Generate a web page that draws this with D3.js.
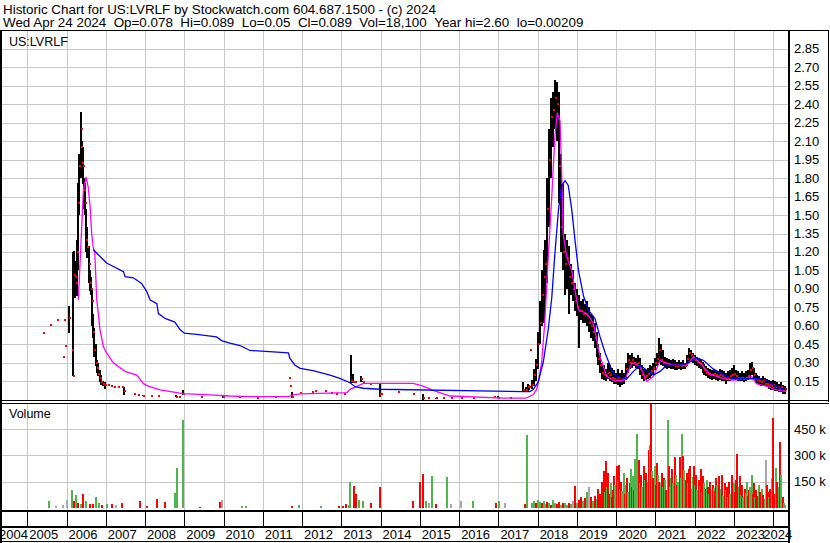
<!DOCTYPE html>
<html><head><meta charset="utf-8">
<script src="https://cdn.jsdelivr.net/npm/d3@7"></script>
<style>
body{margin:0;background:#fff}
svg{display:block}
text{font-family:"Liberation Sans",Arial,sans-serif;fill:#000}
</style>
</head><body>
<svg id="chart" width="830" height="543"></svg>
<script>
// ---------------- DATA ----------------
const titleLine1 = "Historic Chart for US:LVRLF by Stockwatch.com 604.687.1500 - (c) 2024";
const titleLine2 = "Wed Apr 24 2024  Op=0.078  Hi=0.089  Lo=0.05  Cl=0.089  Vol=18,100  Year hi=2.60  lo=0.00209";
const symbolLabel = "US:LVRLF";
const volumeLabel = "Volume";
const priceTicks = [0.15,0.30,0.45,0.60,0.75,0.90,1.05,1.20,1.35,1.50,1.65,1.80,1.95,2.10,2.25,2.40,2.55,2.70,2.85];
const volumeTicks = [150,300,450]; // thousands
const yearTicks = [2005,2006,2007,2008,2009,2010,2011,2012,2013,2014,2015,2016,2017,2018,2019,2020,2021,2022,2023,2024];
const yearLabels = [2004,2005,2006,2007,2008,2009,2010,2011,2012,2013,2014,2015,2016,2017,2018,2019,2020,2021,2022,2023,2024];

// [decimal year, high, low, close]
const priceBars = [
[2005.41,.54,.54,.54],[2005.58,.61,.61,.61],[2005.75,.65,.65,.65],[2005.92,.35,.35,.35],[2005.94,.65,.65,.65],
[2005.97,.44,.44,.44],[2006.05,.76,.54,.66],[2006.15,.40,.40,.40],[2006.17,1.20,.19,.19],[2006.19,1.21,1.00,1.01],
[2006.21,1.13,.83,1.00],[2006.24,1.10,.85,.95],[2006.27,1.30,.84,1.20],[2006.30,1.76,1.05,1.60],[2006.33,2.00,1.50,1.90],
[2006.36,2.34,1.80,2.20],[2006.38,2.25,1.85,2.05],[2006.40,2.10,1.80,1.92],[2006.42,2.05,1.75,1.90],[2006.44,1.80,1.55,1.70],
[2006.47,1.76,1.50,1.60],[2006.50,1.55,1.20,1.30],[2006.53,1.40,1.15,1.24],[2006.56,1.25,.95,1.10],[2006.59,1.05,.88,.95],
[2006.62,1.00,.85,.90],[2006.65,.90,.60,.80],[2006.68,.70,.50,.55],[2006.71,.58,.35,.40],[2006.74,.45,.27,.30],
[2006.77,.32,.22,.26],[2006.80,.30,.19,.21],[2006.84,.24,.14,.18],[2006.88,.20,.12,.14],[2006.93,.15,.11,.13],
[2006.98,.14,.09,.12],[2007.05,.12,.12,.12],[2007.12,.11,.11,.11],[2007.22,.10,.10,.10],[2007.32,.10,.10,.10],
[2007.40,.10,.10,.10],[2007.47,.10,.04,.07],[2007.72,.05,.05,.05],[2007.82,.04,.04,.04],[2007.96,.04,.03,.03],
[2008.15,.03,.03,.03],[2008.32,.03,.03,.03],[2008.80,.04,.02,.02],[2008.86,.02,.02,.02],[2008.96,.08,.035,.05],
[2009.42,.02,.02,.02],[2009.99,.03,.015,.02],[2010.40,.02,.02,.02],[2010.85,.015,.015,.015],[2011.30,.02,.02,.02],
[2011.66,.18,.18,.18],[2011.68,.11,.11,.11],[2011.74,.066,.012,.02],[2011.95,.057,.057,.057],[2012.24,.06,.06,.06],
[2012.32,.07,.07,.07],[2012.59,.07,.07,.07],[2012.73,.057,.057,.057],[2012.86,.05,.05,.05],[2013.08,.05,.05,.05],
[2013.24,.363,.133,.15],[2013.30,.21,.133,.14],[2013.36,.15,.14,.14],[2013.49,.19,.14,.17],[2013.55,.15,.14,.14],
[2013.72,.13,.13,.13],[2013.98,.13,.02,.05],[2014.02,.05,.05,.05],[2014.45,.065,.065,.065],[2014.83,.05,.05,.05],
[2015.08,.05,.0,.01],[2015.20,.01,.01,.01],[2015.40,.01,.005,.01],[2015.60,.01,.01,.01],[2015.80,.01,.01,.01],
[2016.05,.012,.012,.012],[2016.35,.012,.012,.012],[2016.90,.025,.025,.025],[2017.00,.03,.01,.012],[2017.30,.012,.012,.012],
[2017.62,.14,.07,.08],[2017.70,.10,.06,.08],[2017.75,.13,.07,.10],[2017.79,.12,.08,.10],[2017.81,.40,.40,.40],
[2017.85,.16,.09,.12],[2017.90,.25,.11,.20],[2017.95,.33,.15,.28],[2018.00,.55,.25,.45],[2018.05,.80,.45,.62],
[2018.10,1.05,.60,.85],[2018.15,1.22,.62,1.00],[2018.20,1.30,.75,1.10],[2018.25,1.80,.95,1.55],[2018.30,2.20,1.40,1.95],
[2018.35,2.45,1.80,2.30],[2018.40,2.50,2.05,2.35],[2018.45,2.60,2.20,2.45],[2018.50,2.58,2.10,2.40],[2018.55,2.50,1.60,1.90],
[2018.60,2.00,1.20,1.40],[2018.65,1.75,1.05,1.20],[2018.70,1.35,.85,1.10],[2018.75,1.30,.90,1.15],[2018.80,1.25,.70,1.00],
[2018.85,1.10,.85,.95],[2018.90,1.05,.80,.90],[2018.95,.95,.72,.80],[2019.00,.90,.68,.75],[2019.05,.85,.42,.72],
[2019.10,.80,.65,.72],[2019.15,.82,.62,.70],[2019.20,.78,.62,.70],[2019.25,.80,.60,.68],[2019.30,.75,.55,.62],
[2019.35,.70,.50,.60],[2019.40,.68,.48,.55],[2019.45,.62,.42,.50],[2019.50,.55,.35,.42],[2019.55,.45,.28,.33],
[2019.60,.38,.22,.28],[2019.65,.30,.17,.22],[2019.70,.28,.16,.20],[2019.75,.25,.15,.19],[2019.80,.30,.17,.22],
[2019.85,.28,.15,.20],[2019.90,.26,.14,.18],[2019.95,.24,.13,.17],[2020.00,.22,.13,.16],[2020.05,.25,.12,.18],
[2020.10,.22,.10,.15],[2020.15,.24,.12,.17],[2020.20,.22,.13,.17],[2020.25,.30,.16,.25],[2020.30,.38,.22,.32],
[2020.35,.36,.25,.30],[2020.40,.38,.26,.32],[2020.45,.35,.27,.30],[2020.50,.34,.26,.29],[2020.55,.36,.25,.30],
[2020.60,.34,.20,.25],[2020.65,.28,.17,.20],[2020.70,.25,.15,.18],[2020.75,.24,.16,.19],[2020.80,.26,.17,.21],
[2020.85,.28,.18,.22],[2020.90,.27,.19,.23],[2020.95,.30,.20,.26],[2021.00,.34,.24,.30],[2021.05,.38,.27,.33],
[2021.10,.50,.30,.40],[2021.15,.45,.28,.32],[2021.20,.40,.27,.30],[2021.25,.35,.26,.30],[2021.30,.34,.25,.29],
[2021.35,.33,.26,.29],[2021.40,.32,.25,.28],[2021.45,.33,.25,.28],[2021.50,.32,.24,.27],[2021.55,.31,.24,.27],
[2021.60,.32,.25,.28],[2021.65,.31,.24,.27],[2021.70,.32,.25,.28],[2021.75,.30,.25,.27],[2021.80,.36,.27,.33],
[2021.85,.42,.30,.38],[2021.90,.40,.31,.36],[2021.95,.38,.30,.34],[2022.00,.36,.28,.32],[2022.05,.35,.27,.31],
[2022.10,.34,.26,.30],[2022.15,.33,.25,.29],[2022.20,.31,.22,.26],[2022.25,.29,.20,.24],[2022.30,.27,.19,.22],
[2022.35,.26,.18,.21],[2022.40,.25,.17,.20],[2022.45,.24,.16,.20],[2022.50,.25,.17,.21],[2022.55,.24,.16,.20],
[2022.60,.23,.15,.19],[2022.65,.25,.16,.20],[2022.70,.24,.15,.19],[2022.75,.23,.15,.18],[2022.80,.22,.13,.17],
[2022.85,.23,.15,.18],[2022.90,.24,.15,.19],[2022.95,.26,.16,.20],[2023.00,.28,.17,.21],[2023.05,.24,.16,.19],
[2023.10,.23,.15,.18],[2023.15,.22,.15,.18],[2023.20,.23,.15,.18],[2023.25,.22,.14,.17],[2023.30,.23,.15,.18],
[2023.35,.24,.16,.19],[2023.40,.30,.18,.24],[2023.45,.31,.20,.26],[2023.50,.26,.17,.20],[2023.55,.22,.14,.17],
[2023.60,.20,.13,.16],[2023.65,.19,.12,.15],[2023.70,.18,.11,.14],[2023.75,.19,.12,.15],[2023.80,.18,.11,.13],
[2023.85,.17,.10,.13],[2023.90,.16,.09,.12],[2023.95,.15,.08,.11],[2024.00,.16,.08,.12],[2024.05,.15,.07,.10],
[2024.10,.14,.07,.10],[2024.15,.13,.06,.09],[2024.20,.14,.06,.10],[2024.25,.12,.05,.08],[2024.30,.11,.05,.089]
];

// short moving average (magenta) [decimal year, value]
const shortMA = [
[2006.30,.81],[2006.34,1.08],[2006.43,1.70],[2006.50,1.81],[2006.55,1.73],[2006.60,1.57],[2006.64,1.35],[2006.68,1.24],
[2006.72,1.19],[2006.77,.81],[2006.81,.70],[2006.85,.57],[2006.94,.43],[2007.02,.38],[2007.19,.30],[2007.49,.23],
[2007.79,.20],[2007.96,.13],[2008.08,.11],[2008.38,.08],[2008.97,.05],[2009.65,.04],[2010.16,.03],[2010.67,.025],
[2011.65,.025],[2011.78,.039],[2011.95,.047],[2013.14,.057],[2013.22,.084],[2013.56,.133],[2013.90,.133],[2014.83,.133],
[2015.09,.11],[2015.30,.08],[2015.77,.03],[2017.12,.012],[2017.70,.012],[2017.88,.04],[2017.97,.08],[2018.03,.16],
[2018.10,.30],[2018.18,.62],[2018.27,1.16],[2018.36,1.65],[2018.44,2.14],[2018.50,2.33],[2018.57,2.27],[2018.61,1.87],
[2018.65,1.35],[2018.74,1.16],[2018.87,1.05],[2018.95,.89],[2019.04,.73],[2019.25,.70],[2019.42,.62],[2019.59,.35],
[2019.76,.19],[2019.97,.15],[2020.22,.16],[2020.40,.30],[2020.61,.27],[2020.78,.15],[2020.95,.19],[2021.12,.32],
[2021.24,.30],[2021.45,.28],[2021.80,.28],[2021.97,.35],[2022.13,.30],[2022.39,.21],[2022.73,.17],[2022.98,.16],
[2023.32,.17],[2023.45,.19],[2023.57,.13],[2023.83,.11],[2024.08,.08],[2024.34,.065]
];

// long moving average (blue) [decimal year, value]
const longMA = [
[2006.68,1.22],[2006.77,1.19],[2007.02,1.11],[2007.45,1.04],[2007.49,1.00],[2007.70,.99],[2007.91,.945],[2008.04,.88],
[2008.13,.81],[2008.30,.78],[2008.34,.70],[2008.51,.66],[2008.76,.63],[2008.89,.57],[2009.00,.54],[2009.31,.53],
[2009.82,.51],[2009.95,.48],[2010.16,.46],[2010.42,.44],[2010.67,.40],[2011.65,.38],[2011.69,.335],[2011.82,.28],
[2011.95,.255],[2012.28,.236],[2012.71,.20],[2012.96,.173],[2013.22,.138],[2013.35,.106],[2013.56,.093],[2013.98,.085],
[2017.63,.066],[2017.80,.066],[2017.88,.08],[2018.01,.14],[2018.14,.30],[2018.27,.57],[2018.36,.83],[2018.44,1.19],
[2018.53,1.54],[2018.61,1.74],[2018.70,1.78],[2018.78,1.74],[2018.87,1.54],[2018.95,1.30],[2019.04,1.05],[2019.17,.84],
[2019.29,.73],[2019.46,.66],[2019.59,.51],[2019.72,.38],[2019.89,.24],[2020.01,.19],[2020.27,.17],[2020.44,.23],
[2020.61,.28],[2020.78,.24],[2020.95,.20],[2021.12,.23],[2021.29,.28],[2021.63,.28],[2021.84,.30],[2022.05,.34],
[2022.22,.32],[2022.47,.25],[2022.81,.19],[2023.00,.17],[2023.32,.17],[2023.66,.17],[2023.83,.16],[2024.00,.12],
[2024.21,.09],[2024.34,.08]
];

// volume [decimal year, thousands of shares, direction u=up d=down n=unchanged]
const volumes = [
[2005.55,38,"u"],[2005.72,8,"n"],[2005.92,15,"n"],[2006.00,47,"n"],[2006.15,100,"u"],[2006.19,38,"d"],[2006.25,72,"u"],
[2006.28,30,"d"],[2006.36,20,"u"],[2006.43,80,"d"],[2006.50,40,"u"],[2006.60,20,"d"],[2006.68,22,"d"],[2006.74,62,"u"],
[2006.82,25,"u"],[2006.90,15,"d"],[2007.03,22,"u"],[2007.16,22,"d"],[2007.26,18,"n"],[2007.40,28,"d"],[2007.86,40,"d"],
[2008.05,10,"d"],[2008.31,50,"d"],[2008.52,33,"d"],[2008.75,84,"u"],[2008.82,228,"u"],[2008.96,500,"u"],[2009.40,3,"d"],
[2009.90,34,"d"],[2009.97,47,"n"],[2010.48,12,"u"],[2010.58,12,"u"],[2011.75,10,"d"],[2011.93,15,"u"],[2012.48,10,"u"],
[2012.95,8,"d"],[2013.05,12,"d"],[2013.12,20,"d"],[2013.20,18,"u"],[2013.23,150,"u"],[2013.31,125,"d"],[2013.38,80,"d"],
[2013.45,47,"u"],[2013.55,38,"u"],[2013.75,25,"d"],[2013.99,120,"d"],[2014.82,38,"d"],[2015.00,150,"d"],[2015.07,195,"d"],
[2015.16,38,"u"],[2015.23,30,"n"],[2015.30,180,"u"],[2015.40,22,"d"],[2015.70,175,"u"],[2015.80,20,"n"],[2016.05,38,"n"],
[2016.35,40,"u"],[2016.95,30,"d"],[2017.02,40,"u"],[2017.16,27,"n"],[2017.68,20,"d"],[2017.72,415,"u"],
[2017.85,30,"u"],[2017.90,38,"u"],[2017.95,25,"d"],[2018.00,42,"u"],[2018.05,35,"u"],[2018.10,28,"d"],[2018.15,40,"u"],
[2018.20,22,"u"],[2018.25,35,"d"],[2018.30,30,"u"],[2018.35,18,"d"],[2018.40,45,"u"],[2018.45,28,"u"],[2018.50,20,"d"],
[2018.55,35,"d"],[2018.60,15,"u"],[2018.65,25,"d"],[2018.70,30,"u"],[2018.75,18,"u"],[2018.80,25,"d"],[2018.85,20,"u"],
[2018.90,40,"n"],[2018.95,122,"d"],[2019.00,30,"u"],[2019.05,45,"d"],[2019.10,62,"d"],[2019.15,40,"u"],[2019.20,55,"d"],
[2019.25,90,"u"],[2019.30,120,"n"],[2019.35,60,"d"],[2019.40,38,"u"],[2019.45,70,"d"],[2019.50,50,"u"],[2019.55,108,"d"],
[2019.60,80,"d"],[2019.65,150,"d"],[2019.68,210,"d"],[2019.71,90,"u"],[2019.74,270,"d"],[2019.77,120,"u"],[2019.80,200,"d"],
[2019.83,80,"d"],[2019.86,140,"u"],[2019.89,60,"d"],[2019.92,100,"d"],[2019.95,180,"d"],[2019.98,130,"u"],[2020.01,240,"d"],
[2020.04,160,"u"],[2020.07,243,"d"],[2020.10,110,"u"],[2020.13,150,"d"],[2020.16,95,"u"],[2020.19,200,"u"],[2020.22,80,"d"],
[2020.25,130,"u"],[2020.28,170,"d"],[2020.31,90,"u"],[2020.34,140,"d"],[2020.37,220,"u"],[2020.40,120,"d"],[2020.43,180,"u"],
[2020.46,100,"d"],[2020.49,280,"u"],[2020.52,420,"u"],[2020.55,225,"u"],[2020.58,275,"d"],[2020.61,140,"u"],[2020.64,190,"d"],
[2020.67,120,"u"],[2020.70,240,"d"],[2020.73,160,"u"],[2020.76,200,"d"],[2020.80,150,"u"],[2020.83,330,"d"],[2020.86,360,"u"],
[2020.89,620,"d"],[2020.92,210,"u"],[2020.95,170,"d"],[2020.98,240,"u"],[2021.01,130,"d"],[2021.04,255,"d"],[2021.07,190,"u"],
[2021.10,150,"d"],[2021.13,140,"u"],[2021.16,200,"d"],[2021.19,120,"u"],[2021.22,170,"d"],[2021.25,160,"u"],[2021.28,100,"d"],
[2021.31,500,"u"],[2021.34,240,"d"],[2021.37,120,"u"],[2021.40,170,"u"],[2021.43,220,"d"],[2021.46,140,"u"],[2021.49,290,"d"],
[2021.52,190,"u"],[2021.55,130,"d"],[2021.58,150,"u"],[2021.62,290,"d"],[2021.65,170,"u"],[2021.68,420,"u"],[2021.71,295,"d"],
[2021.74,215,"u"],[2021.77,160,"d"],[2021.80,200,"d"],[2021.83,140,"u"],[2021.86,220,"d"],[2021.89,240,"d"],[2021.92,110,"u"],
[2021.95,175,"u"],[2021.98,240,"d"],[2022.01,130,"u"],[2022.04,190,"d"],[2022.07,100,"u"],[2022.10,160,"d"],[2022.13,125,"u"],
[2022.16,220,"d"],[2022.19,90,"u"],[2022.22,180,"d"],[2022.25,140,"u"],[2022.28,105,"d"],[2022.31,160,"u"],[2022.34,120,"d"],
[2022.37,80,"u"],[2022.40,150,"d"],[2022.43,100,"n"],[2022.46,130,"d"],[2022.49,115,"u"],[2022.52,95,"d"],[2022.55,170,"d"],
[2022.58,130,"u"],[2022.61,180,"d"],[2022.64,90,"d"],[2022.67,110,"u"],[2022.70,190,"d"],[2022.73,70,"u"],[2022.76,140,"d"],
[2022.79,100,"u"],[2022.82,120,"d"],[2022.85,60,"u"],[2022.88,150,"d"],[2022.91,80,"u"],[2022.94,190,"d"],[2022.97,110,"d"],
[2023.00,140,"u"],[2023.03,90,"d"],[2023.06,160,"d"],[2023.09,310,"d"],[2023.12,120,"u"],[2023.15,180,"d"],[2023.18,75,"u"],
[2023.21,130,"d"],[2023.24,60,"u"],[2023.27,110,"d"],[2023.30,85,"u"],[2023.33,150,"u"],[2023.36,70,"d"],[2023.39,100,"d"],
[2023.42,120,"u"],[2023.45,190,"u"],[2023.48,80,"d"],[2023.51,140,"d"],[2023.54,60,"u"],[2023.57,100,"d"],[2023.60,70,"d"],
[2023.63,130,"u"],[2023.66,90,"d"],[2023.69,55,"d"],[2023.72,110,"u"],[2023.75,75,"d"],[2023.78,50,"u"],[2023.81,275,"n"],
[2023.84,130,"d"],[2023.87,90,"d"],[2023.90,60,"u"],[2023.93,110,"d"],[2023.96,170,"u"],[2024.00,515,"d"],[2024.03,80,"d"],
[2024.06,230,"u"],[2024.09,150,"d"],[2024.12,100,"d"],[2024.15,120,"u"],[2024.18,378,"d"],[2024.21,190,"u"],[2024.24,60,"d"],
[2024.27,30,"u"],[2024.30,18,"u"]
];

// ---------------- DRAW ----------------
const svg = d3.select("#chart");
const W = 830, H = 543;
const plotL = 0, plotR = 788;
const priceTop = 30, priceBot = 400;
const volTop = 404, volBot = 510;

const x = d3.scaleLinear().domain([2004.305, 2024.377]).range([plotL, plotR]);
const yP = d3.scaleLinear().domain([0, 3]).range([399.7, 30.4]);
const yV = d3.scaleLinear().domain([0, 150]).range([507.8, 481.6]);
const volColor = d3.scaleOrdinal().domain(["u","d","n"]).range(["#4cb84c","#ff0000","#a8a8a8"]);

svg.append("rect").attr("width", W).attr("height", H).attr("fill", "#fff");

const crisp = v => Math.round(v) + 0.5;
const gridColor = "#c8c8c8";

// header (double spaces kept with non-breaking spaces)
const keepSpaces = s => s.replace(/  /g, " \u00a0");
svg.append("text").attr("x", 3).attr("y", 13.5).style("font-size", "13.4px").text(keepSpaces(titleLine1));
svg.append("text").attr("x", 3).attr("y", 27).style("font-size", "13.4px").text(keepSpaces(titleLine2));

// grid
const gGrid = svg.append("g").attr("stroke", gridColor).attr("stroke-width", 1).attr("shape-rendering","crispEdges");
gGrid.selectAll("line.hp").data(priceTicks).join("line")
  .attr("x1", plotL).attr("x2", plotR).attr("y1", d => crisp(yP(d))).attr("y2", d => crisp(yP(d)));
gGrid.selectAll("line.vp").data(yearTicks).join("line").attr("class","vp")
  .attr("x1", d => crisp(x(d))).attr("x2", d => crisp(x(d))).attr("y1", priceTop).attr("y2", priceBot);
gGrid.selectAll("line.hv").data(volumeTicks).join("line").attr("class","hv")
  .attr("x1", plotL).attr("x2", plotR).attr("y1", d => crisp(yV(d))).attr("y2", d => crisp(yV(d)));
gGrid.selectAll("line.vv").data(yearTicks).join("line").attr("class","vv")
  .attr("x1", d => crisp(x(d))).attr("x2", d => crisp(x(d))).attr("y1", volTop).attr("y2", volBot);

// clip paths
svg.append("clipPath").attr("id","clipP").append("rect").attr("x",2).attr("y",priceTop+1).attr("width",plotR-2).attr("height",priceBot-priceTop-1);
svg.append("clipPath").attr("id","clipV").append("rect").attr("x",2).attr("y",volTop).attr("width",plotR-2).attr("height",volBot-volTop);

// volume bars
const gVol = svg.append("g").attr("clip-path","url(#clipV)").attr("shape-rendering","crispEdges");
gVol.selectAll("rect").data(volumes).join("rect")
  .attr("x", d => Math.round(x(d[0])) - 1)
  .attr("width", 2)
  .attr("y", d => Math.max(volTop, yV(d[1])))
  .attr("height", d => yV(0) - Math.max(volTop, yV(d[1])))
  .attr("fill", d => volColor(d[2]));

// price bars
const gP = svg.append("g").attr("clip-path","url(#clipP)");
const gBars = gP.append("g").attr("shape-rendering","crispEdges");
gBars.selectAll("rect").data(priceBars.filter(d => d[1] > d[2])).join("rect")
  .attr("x", d => Math.round(x(d[0])) - 1)
  .attr("width", 2)
  .attr("y", d => yP(d[1]))
  .attr("height", d => Math.max(1, yP(d[2]) - yP(d[1])))
  .attr("fill", "#000");

// moving averages
const line = d3.line().x(d => x(d[0])).y(d => yP(d[1]));
gP.append("path").datum(shortMA).attr("d", line).attr("fill","none").attr("stroke","#ff00ff").attr("stroke-width",1.3);
gP.append("path").datum(longMA).attr("d", line).attr("fill","none").attr("stroke","#0000ff").attr("stroke-width",1.3);

// close markers
gBars.append("g").selectAll("rect").data(priceBars).join("rect")
  .attr("x", d => Math.round(x(d[0])))
  .attr("y", d => Math.round(yP(d[3])) - 1)
  .attr("width", 2).attr("height", 2)
  .attr("fill", "#ff0000");

// frame
const gF = svg.append("g").attr("stroke","#000").attr("shape-rendering","crispEdges");
gF.append("line").attr("x1",0).attr("x2",829).attr("y1",30.5).attr("y2",30.5).attr("stroke-width",1);
gF.append("line").attr("x1",1).attr("x2",1).attr("y1",30).attr("y2",543).attr("stroke-width",2);
gF.append("line").attr("x1",789).attr("x2",789).attr("y1",30).attr("y2",543).attr("stroke-width",2);
gF.append("line").attr("x1",828.5).attr("x2",828.5).attr("y1",30).attr("y2",402).attr("stroke-width",1);
gF.append("line").attr("x1",0).attr("x2",829).attr("y1",400.5).attr("y2",400.5).attr("stroke-width",1);
gF.append("line").attr("x1",0).attr("x2",829).attr("y1",403.5).attr("y2",403.5).attr("stroke-width",1);
gF.append("line").attr("x1",0).attr("x2",789).attr("y1",510.5).attr("y2",510.5).attr("stroke-width",2);
gF.append("line").attr("x1",0).attr("x2",789).attr("y1",526.5).attr("y2",526.5).attr("stroke-width",2);
gF.append("line").attr("x1",0).attr("x2",789).attr("y1",541.5).attr("y2",541.5).attr("stroke-width",1);
gF.selectAll("line.yt").data(yearTicks).join("line").attr("class","yt")
  .attr("x1", d => crisp(x(d))).attr("x2", d => crisp(x(d))).attr("y1", 510).attr("y2", 526).attr("stroke-width",1);

// axis labels
svg.append("g").selectAll("text").data(priceTicks).join("text")
  .attr("x", 794).attr("y", d => yP(d) + 4.5).style("font-size","13px").text(d => d.toFixed(2));
svg.append("g").selectAll("text").data(volumeTicks).join("text")
  .attr("x", 794).attr("y", d => yV(d) + 4.5).style("font-size","13px").text(d => d + " k");
svg.append("g").selectAll("text").data(yearLabels).join("text")
  .attr("x", d => d === 2004 ? -1 : (d === 2024 ? x(d) - 10 : x(d) + 2))
  .attr("y", 539).style("font-size","13px").text(d => d);

svg.append("text").attr("x", 9).attr("y", 46).style("font-size","12.5px").text(symbolLabel);
svg.append("text").attr("x", 9).attr("y", 418).style("font-size","12.5px").text(volumeLabel);
</script>
</body></html>
